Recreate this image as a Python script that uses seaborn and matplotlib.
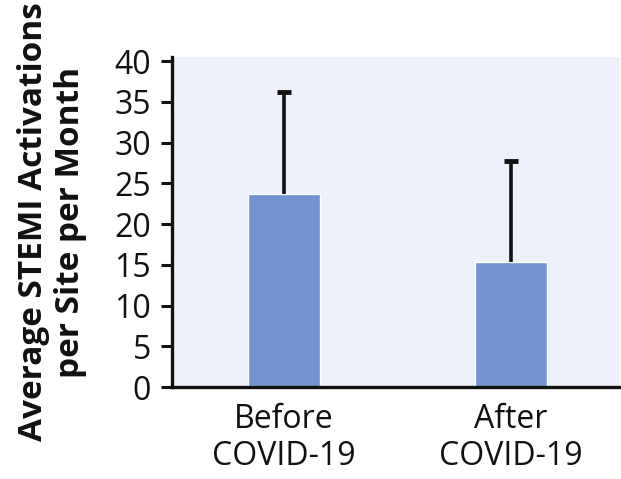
import numpy as np
import pandas as pd
import matplotlib
matplotlib.use("Agg")
import matplotlib.pyplot as plt
import seaborn as sns

# datos
periods = ["Before\nCOVID-19", "After\nCOVID-19"]
mean_activations = [23.7, 15.3]
sd_activations = [12.5, 12.4]

df = pd.DataFrame({"period": periods, "activations": mean_activations})

sns.set_style("white")
plt.rcParams["font.family"] = ["Open Sans", "DejaVu Sans"]

fig = plt.figure(figsize=(6.21, 4.79), dpi=100)
ax = fig.add_axes([0.277, 0.192, 0.721, 0.689])
ax.set_facecolor("#eef1fa")

sns.barplot(data=df, x="period", y="activations", color="#7194d0",
            saturation=1, width=0.317, errorbar=None, ax=ax)

# barras de error solo hacia arriba
_, caps, _ = ax.errorbar(np.arange(len(periods)), mean_activations,
                         yerr=[np.zeros(len(sd_activations)), sd_activations],
                         fmt="none", ecolor="#111111", elinewidth=2.6,
                         capsize=5, capthick=3.5, zorder=3)
caps[0].set_visible(False)  # sin tapa abajo

ax.set_ylim(0, 40.5)
ax.set_xlim(-0.493, 1.48)
ax.set_yticks(range(0, 41, 5))

for s in ["top", "right"]:
    ax.spines[s].set_visible(False)
for s in ["left", "bottom"]:
    ax.spines[s].set_linewidth(2.4)
    ax.spines[s].set_color("#111111")

ax.tick_params(axis="y", which="major", left=True, length=8, width=2.2,
               color="#111111", labelsize=23, pad=7, labelcolor="#111111")
ax.tick_params(axis="x", bottom=False, labelsize=23, pad=8, labelcolor="#111111")
for lab in ax.get_xticklabels():
    lab.set_linespacing(1.15)

ax.set_xlabel("")
ax.set_ylabel("Average STEMI Activations\nper Site per Month", fontsize=24,
              fontweight="bold", color="#111111", linespacing=1.15)
ax.yaxis.set_label_coords(-0.19, 0.5)

fig.savefig("out.png", dpi=100)
